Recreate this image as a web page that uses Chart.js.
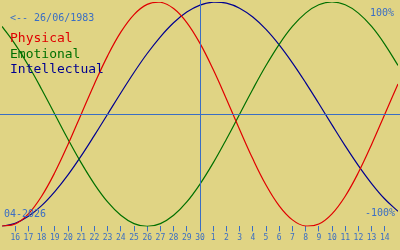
<!DOCTYPE html>
<html>
<head>
<meta charset="utf-8">
<script src="https://cdn.jsdelivr.net/npm/chart.js@4/dist/chart.umd.min.js"></script>
<style>
  html, body { margin: 0; padding: 0; background: #e0d484; }
  #wrap { width: 400px; height: 250px; }
</style>
</head>
<body>
<div id="wrap"><canvas id="c" width="400" height="250"></canvas></div>
<script>
// Day positions: 0 = 15 April 2026 ... 30 = 15 May 2026
const dayIndex = [0,1,2,3,4,5,6,7,8,9,10,11,12,13,14,15,16,17,18,19,20,21,22,23,24,25,26,27,28,29,30];
// Tick labels for positions 1..29
const dayLabels = ['16','17','18','19','20','21','22','23','24','25','26','27','28','29','30',
                   '1','2','3','4','5','6','7','8','9','10','11','12','13','14'];
const seriesNames = ['Physical', 'Emotional', 'Intellectual'];
// Values (-1 .. 1), one per day
const physical = [-0.998,-0.979,-0.888,-0.731,-0.520,-0.270,0,0.270,0.520,0.731,0.888,0.979,0.998,0.942,0.817,0.631,0.398,0.136,-0.136,-0.398,-0.631,-0.817,-0.942,-0.998,-0.979,-0.888,-0.731,-0.520,-0.270,0,0.270];
const emotional = [0.782,0.623,0.434,0.223,0,-0.223,-0.434,-0.623,-0.782,-0.901,-0.975,-1.0,-0.975,-0.901,-0.782,-0.623,-0.434,-0.223,0,0.223,0.434,0.623,0.782,0.901,0.975,1.0,0.975,0.901,0.782,0.623,0.434];
const intellectual = [-0.999,-0.972,-0.910,-0.815,-0.690,-0.541,-0.372,-0.189,0,0.189,0.372,0.541,0.690,0.815,0.910,0.972,0.999,0.990,0.945,0.866,0.756,0.618,0.458,0.282,0.095,-0.095,-0.282,-0.458,-0.618,-0.756,-0.866];
const todayIndex = 15;
const birthText = '<-- 26/06/1983';
const monthText = '04-2026';
const topText = '100%';
const bottomText = '-100%';

const BG = '#e0d484';
const BLUE = '#3a6ec4';
const colors = ['#e00000', '#007000', '#000090'];

const toPts = arr => arr.map((v, i) => ({ x: dayIndex[i], y: v }));

const bgPlugin = {
  id: 'bg',
  beforeDraw(chart) {
    const ctx = chart.ctx;
    ctx.save();
    ctx.fillStyle = BG;
    ctx.fillRect(0, 0, chart.width, chart.height);
    ctx.restore();
  }
};

const overlayPlugin = {
  id: 'overlay',
  afterDatasetsDraw(chart) {
    const ctx = chart.ctx;
    const xs = chart.scales.x, ys = chart.scales.y;
    const area = chart.chartArea;
    ctx.save();
    ctx.strokeStyle = BLUE;
    ctx.lineWidth = 1;
    const y0 = Math.round(ys.getPixelForValue(0)) + 0.5;
    ctx.beginPath();
    ctx.moveTo(0, y0);
    ctx.lineTo(chart.width, y0);
    ctx.stroke();
    const xT = Math.round(xs.getPixelForValue(todayIndex)) + 0.5;
    ctx.beginPath();
    ctx.moveTo(xT, 0);
    ctx.lineTo(xT, area.bottom);
    ctx.stroke();
    ctx.restore();
  },
  afterDraw(chart) {
    const ctx = chart.ctx;
    ctx.save();
    ctx.textBaseline = 'alphabetic';
    ctx.font = '10px "DejaVu Sans Mono"';
    ctx.fillStyle = BLUE;
    ctx.textAlign = 'left';
    ctx.fillText(birthText, 10, 21);
    ctx.fillText(monthText, 4, 216.5);
    ctx.textAlign = 'right';
    ctx.fillText(topText, 394, 16);
    ctx.fillText(bottomText, 395, 216);
    ctx.textAlign = 'left';
    ctx.font = '13px "DejaVu Sans Mono"';
    chart.data.datasets.forEach((ds, i) => {
      ctx.fillStyle = ds.borderColor;
      ctx.fillText(ds.label, 10, 42 + i * 15.5);
    });
    ctx.restore();
  }
};

new Chart(document.getElementById('c'), {
  type: 'line',
  data: {
    datasets: [
      { label: seriesNames[0], data: toPts(physical), borderColor: colors[0] },
      { label: seriesNames[1], data: toPts(emotional), borderColor: colors[1] },
      { label: seriesNames[2], data: toPts(intellectual), borderColor: colors[2] }
    ]
  },
  options: {
    responsive: false,
    animation: false,
    events: [],
    layout: { padding: { top: 2, left: 0, right: 0, bottom: 5 } },
    elements: {
      line: { borderWidth: 1.2, tension: 0.4, fill: false },
      point: { radius: 0 }
    },
    plugins: { legend: { display: false }, tooltip: { enabled: false } },
    scales: {
      x: {
        type: 'linear',
        min: 0, max: 30,
        border: { display: false },
        grid: {
          drawOnChartArea: false,
          drawTicks: true,
          tickLength: 5,
          color: c => (c.tick && (c.tick.value === 0 || c.tick.value === 30)) ? 'rgba(0,0,0,0)' : BLUE
        },
        ticks: {
          stepSize: 1,
          autoSkip: false,
          maxRotation: 0,
          minRotation: 0,
          padding: 2,
          color: BLUE,
          font: { family: 'DejaVu Sans Mono', size: 8 },
          callback: v => (v >= 1 && v <= 29) ? dayLabels[v - 1] : ''
        }
      },
      y: {
        display: false,
        min: -1, max: 1
      }
    }
  },
  plugins: [bgPlugin, overlayPlugin]
});
</script>
</body>
</html>
